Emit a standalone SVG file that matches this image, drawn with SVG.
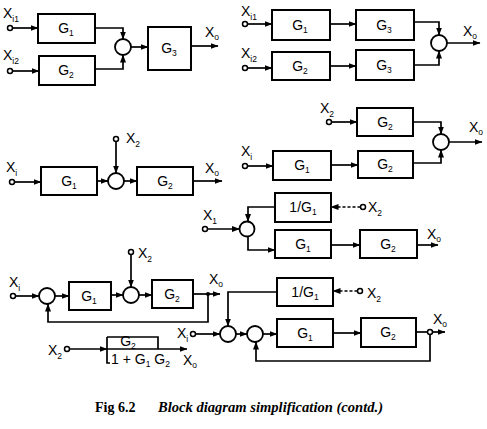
<svg xmlns="http://www.w3.org/2000/svg" width="487" height="429" viewBox="0 0 487 429">
<style>
.bx{fill:none;stroke:#000;stroke-width:2}
.ln{fill:none;stroke:#000;stroke-width:1.7}
.ds{fill:none;stroke:#000;stroke-width:1.5;stroke-dasharray:3,2}
.sm{fill:#fff;stroke:#000;stroke-width:1.8}
.ip{fill:#fff;stroke:#000;stroke-width:1.5}
.t{font-family:"Liberation Sans",Arial,sans-serif;font-size:14px;fill:#000}
.s{font-size:8.5px}
.g{font-family:"Liberation Sans",Arial,sans-serif;font-size:14px;fill:#000;text-anchor:middle}
.cap{font-family:"Liberation Serif","Times New Roman",serif;font-size:14px;font-weight:bold;fill:#000}
</style>
<defs>
<marker id="a" markerWidth="8" markerHeight="6" refX="7.5" refY="3" orient="auto" markerUnits="userSpaceOnUse"><path d="M0,0 L8,3 L0,6 z" fill="#000"/></marker>
</defs>

<!-- Diagram 1 -->
<g id="d1-xi1"><circle class="ip" cx="10" cy="28" r="2.5"/><text class="t" x="3" y="18">X<tspan class="s" dy="4">i1</tspan></text></g>
<g id="d1-xi2"><circle class="ip" cx="10" cy="71" r="2.5"/><text class="t" x="3" y="60">X<tspan class="s" dy="4">i2</tspan></text></g>
<g id="d1-g1"><rect class="bx" x="38" y="14" width="57" height="29"/><text class="g" x="66" y="33">G<tspan class="s" dy="3">1</tspan></text></g>
<g id="d1-g2"><rect class="bx" x="39" y="56" width="56" height="29"/><text class="g" x="66" y="75">G<tspan class="s" dy="3">2</tspan></text></g>
<g id="d1-sum"><circle class="sm" cx="123" cy="47" r="8"/></g>
<g id="d1-g3"><rect class="bx" x="148" y="27" width="43" height="43"/><text class="g" x="169" y="53">G<tspan class="s" dy="3">3</tspan></text></g>
<g id="d1-xo"><text class="t" x="205" y="37">X<tspan class="s" dy="3">o</tspan></text></g>

<!-- Diagram 2 -->
<g id="d2-xi1"><circle class="ip" cx="245" cy="24" r="2.5"/><text class="t" x="241" y="16">X<tspan class="s" dy="4">i1</tspan></text></g>
<g id="d2-xi2"><circle class="ip" cx="245" cy="68" r="2.5"/><text class="t" x="241" y="58">X<tspan class="s" dy="4">i2</tspan></text></g>
<g id="d2-g1"><rect class="bx" x="272" y="10" width="58" height="30"/><text class="g" x="300" y="30">G<tspan class="s" dy="3">1</tspan></text></g>
<g id="d2-g3a"><rect class="bx" x="356" y="10" width="58" height="30"/><text class="g" x="384" y="30">G<tspan class="s" dy="3">3</tspan></text></g>
<g id="d2-g2"><rect class="bx" x="272" y="52" width="58" height="28"/><text class="g" x="300" y="71">G<tspan class="s" dy="3">2</tspan></text></g>
<g id="d2-g3b"><rect class="bx" x="356" y="50" width="58" height="30"/><text class="g" x="384" y="70">G<tspan class="s" dy="3">3</tspan></text></g>
<g id="d2-sum"><circle class="sm" cx="439" cy="43" r="8"/></g>
<g id="d2-xo"><text class="t" x="463" y="36">X<tspan class="s" dy="3">o</tspan></text></g>

<!-- Diagram 3 -->
<g id="d3-xi"><circle class="ip" cx="12" cy="182" r="2.5"/><text class="t" x="6" y="172">X<tspan class="s" dy="4">i</tspan></text></g>
<g id="d3-g1"><rect class="bx" x="41" y="167" width="56" height="28"/><text class="g" x="69" y="186">G<tspan class="s" dy="3">1</tspan></text></g>
<g id="d3-sum"><circle class="sm" cx="116" cy="181" r="8"/></g>
<g id="d3-x2"><circle class="ip" cx="116" cy="139" r="2.5"/><text class="t" x="126" y="143">X<tspan class="s" dy="4">2</tspan></text></g>
<g id="d3-g2"><rect class="bx" x="137" y="167" width="56" height="28"/><text class="g" x="165" y="186">G<tspan class="s" dy="3">2</tspan></text></g>
<g id="d3-xo"><text class="t" x="205" y="173">X<tspan class="s" dy="3">o</tspan></text></g>

<!-- Diagram 4 -->
<g id="d4-x2"><circle class="ip" cx="329" cy="122" r="2.5"/><text class="t" x="320" y="113">X<tspan class="s" dy="4">2</tspan></text></g>
<g id="d4-g2a"><rect class="bx" x="357" y="108" width="56" height="28"/><text class="g" x="385" y="127">G<tspan class="s" dy="3">2</tspan></text></g>
<g id="d4-sum"><circle class="sm" cx="441" cy="142" r="8"/></g>
<g id="d4-xo"><text class="t" x="469" y="132">X<tspan class="s" dy="3">o</tspan></text></g>
<g id="d4-xi"><circle class="ip" cx="245" cy="166" r="2.5"/><text class="t" x="241" y="156">X<tspan class="s" dy="4">i</tspan></text></g>
<g id="d4-g1"><rect class="bx" x="273" y="151" width="58" height="29"/><text class="g" x="302" y="170">G<tspan class="s" dy="3">1</tspan></text></g>
<g id="d4-g2b"><rect class="bx" x="358" y="151" width="55" height="27"/><text class="g" x="385" y="169">G<tspan class="s" dy="3">2</tspan></text></g>

<!-- Diagram 5 -->
<g id="d5-inv"><rect class="bx" x="275" y="193" width="56" height="29"/><text class="g" x="303" y="212">1/G<tspan class="s" dy="3">1</tspan></text></g>
<g id="d5-x2"><circle class="ip" cx="363" cy="207" r="2.5"/><text class="t" x="368" y="212">X<tspan class="s" dy="4">2</tspan></text></g>
<g id="d5-x1"><circle class="ip" cx="205" cy="229" r="2.5"/><text class="t" x="203" y="220">X<tspan class="s" dy="4">1</tspan></text></g>
<g id="d5-sum"><circle class="sm" cx="247" cy="229" r="7.5"/></g>
<g id="d5-g1"><rect class="bx" x="275" y="230" width="56" height="28"/><text class="g" x="303" y="249">G<tspan class="s" dy="3">1</tspan></text></g>
<g id="d5-g2"><rect class="bx" x="360" y="230" width="57" height="28"/><text class="g" x="388" y="249">G<tspan class="s" dy="3">2</tspan></text></g>
<g id="d5-xo"><text class="t" x="427" y="239">X<tspan class="s" dy="3">o</tspan></text></g>

<!-- Diagram 6 -->
<g id="d6-xi"><circle class="ip" cx="13" cy="296" r="2.5"/><text class="t" x="9" y="287">X<tspan class="s" dy="4">i</tspan></text></g>
<g id="d6-sum1"><circle class="sm" cx="47" cy="296" r="8"/></g>
<g id="d6-g1"><rect class="bx" x="69" y="282" width="42" height="28"/><text class="g" x="89" y="301">G<tspan class="s" dy="3">1</tspan></text></g>
<g id="d6-sum2"><circle class="sm" cx="131" cy="295" r="8"/></g>
<g id="d6-x2"><circle class="ip" cx="131" cy="252" r="2.5"/><text class="t" x="138" y="258">X<tspan class="s" dy="4">2</tspan></text></g>
<g id="d6-g2"><rect class="bx" x="152" y="280" width="41" height="28"/><text class="g" x="172" y="299">G<tspan class="s" dy="3">2</tspan></text></g>
<g id="d6-xo"><circle cx="208" cy="294" r="2" fill="#000"/><text class="t" x="209" y="284">X<tspan class="s" dy="3">o</tspan></text></g>

<!-- Diagram 6b -->
<g id="d6b-x2"><circle class="ip" cx="67" cy="349" r="2.5"/><text class="t" x="48" y="355">X<tspan class="s" dy="4">2</tspan></text></g>
<g id="d6b-tf">
<path class="ln" d="M107,337 V363 H110 M107,337 H158 V349"/>
<text class="g" x="128" y="346">G<tspan class="s" dy="3">2</tspan></text>
<text class="t" x="111" y="364">1 + G<tspan class="s" dy="3">1</tspan><tspan dy="-3"> G</tspan><tspan class="s" dy="3">2</tspan></text>
</g>
<g id="d6b-xo"><text class="t" x="183" y="365">X<tspan class="s" dy="3">o</tspan></text></g>

<!-- Diagram 7 -->
<g id="d7-xi"><circle class="ip" cx="193" cy="334" r="2.5"/><text class="t" x="177" y="338">X<tspan class="s" dy="4">i</tspan></text></g>
<g id="d7-sumA"><circle class="sm" cx="228" cy="334" r="8"/></g>
<g id="d7-sumB"><circle class="sm" cx="255" cy="334" r="8"/></g>
<g id="d7-inv"><rect class="bx" x="277" y="278" width="56" height="28"/><text class="g" x="305" y="297">1/G<tspan class="s" dy="3">1</tspan></text></g>
<g id="d7-x2"><circle class="ip" cx="360" cy="291" r="2.5"/><text class="t" x="367" y="298">X<tspan class="s" dy="4">2</tspan></text></g>
<g id="d7-g1"><rect class="bx" x="277" y="319" width="56" height="28"/><text class="g" x="305" y="338">G<tspan class="s" dy="3">1</tspan></text></g>
<g id="d7-g2"><rect class="bx" x="361" y="318" width="55" height="29"/><text class="g" x="388" y="337">G<tspan class="s" dy="3">2</tspan></text></g>
<g id="d7-xo"><circle class="ip" cx="430" cy="332" r="2.5"/><text class="t" x="433" y="324">X<tspan class="s" dy="3">o</tspan></text></g>

<g id="connectors">
<!-- d1 -->
<path class="ln" d="M12.5,28 H38" marker-end="url(#a)"/>
<path class="ln" d="M12.5,71 H39" marker-end="url(#a)"/>
<path class="ln" d="M95,28 H123 V39" marker-end="url(#a)"/>
<path class="ln" d="M95,69 H123 V55" marker-end="url(#a)"/>
<path class="ln" d="M131,47 H148" marker-end="url(#a)"/>
<path class="ln" d="M191,46 H218" marker-end="url(#a)"/>
<!-- d2 -->
<path class="ln" d="M247.5,24 H272" marker-end="url(#a)"/>
<path class="ln" d="M330,24 H356" marker-end="url(#a)"/>
<path class="ln" d="M247.5,68 H272" marker-end="url(#a)"/>
<path class="ln" d="M330,66 H356" marker-end="url(#a)"/>
<path class="ln" d="M414,22 H439 V35" marker-end="url(#a)"/>
<path class="ln" d="M414,65 H439 V51" marker-end="url(#a)"/>
<path class="ln" d="M447,43 H480" marker-end="url(#a)"/>
<!-- d3 -->
<path class="ln" d="M14.5,182 H41" marker-end="url(#a)"/>
<path class="ln" d="M97,181 H108" marker-end="url(#a)"/>
<path class="ln" d="M116,141.5 V173" marker-end="url(#a)"/>
<path class="ln" d="M124,181 H137" marker-end="url(#a)"/>
<path class="ln" d="M193,181 H222" marker-end="url(#a)"/>
<!-- d4 -->
<path class="ln" d="M331.5,122 H357" marker-end="url(#a)"/>
<path class="ln" d="M413,122 H441 V134" marker-end="url(#a)"/>
<path class="ln" d="M247.5,166 H273" marker-end="url(#a)"/>
<path class="ln" d="M331,165 H358" marker-end="url(#a)"/>
<path class="ln" d="M413,163 H441 V150" marker-end="url(#a)"/>
<path class="ln" d="M449,142 H482" marker-end="url(#a)"/>
<!-- d5 -->
<path class="ds" d="M360.5,207 H331" marker-end="url(#a)"/>
<path class="ln" d="M275,207 H248 V221.5" marker-end="url(#a)"/>
<path class="ln" d="M207.5,229 H239.5" marker-end="url(#a)"/>
<path class="ln" d="M248,236.5 V250 H275" marker-end="url(#a)"/>
<path class="ln" d="M331,245 H360" marker-end="url(#a)"/>
<path class="ln" d="M417,245 H438" marker-end="url(#a)"/>
<!-- d6 -->
<path class="ln" d="M15.5,296 H39" marker-end="url(#a)"/>
<path class="ln" d="M55,296 H69" marker-end="url(#a)"/>
<path class="ln" d="M111,295 H123" marker-end="url(#a)"/>
<path class="ln" d="M131,254.5 V287" marker-end="url(#a)"/>
<path class="ln" d="M139,295 H152" marker-end="url(#a)"/>
<path class="ln" d="M193,294 H220" marker-end="url(#a)"/>
<path class="ln" d="M208,294 V322 H48 V304" marker-end="url(#a)"/>
<!-- d6b -->
<path class="ln" d="M69.5,349 H107" marker-end="url(#a)"/>
<path class="ln" d="M107,349 H187" marker-end="url(#a)"/>
<!-- d7 -->
<path class="ln" d="M195.5,334 H220" marker-end="url(#a)"/>
<path class="ln" d="M236,334 H247" marker-end="url(#a)"/>
<path class="ln" d="M263,334 H277" marker-end="url(#a)"/>
<path class="ln" d="M333,333 H361" marker-end="url(#a)"/>
<path class="ln" d="M416,332 H427.5"/>
<path class="ln" d="M432.5,332 H445" marker-end="url(#a)"/>
<path class="ln" d="M430,334.5 V361 H256 V342" marker-end="url(#a)"/>
<path class="ds" d="M357.5,291 H333" marker-end="url(#a)"/>
<path class="ln" d="M277,292 H228 V326" marker-end="url(#a)"/>
</g>

<g id="caption">
<text class="cap" x="95" y="412">Fig  6.2</text>
<text class="cap" x="158" y="412" font-style="italic" textLength="225" lengthAdjust="spacingAndGlyphs">Block diagram simplification (contd.)</text>
</g>
</svg>
